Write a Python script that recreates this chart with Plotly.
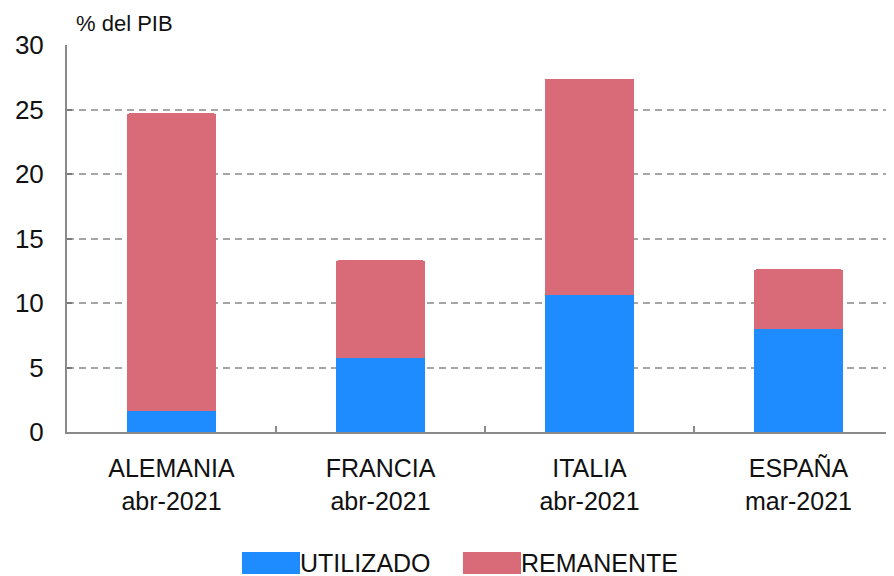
import plotly.graph_objects as go

categories = ["ALEMANIA<br>abr-2021", "FRANCIA<br>abr-2021", "ITALIA<br>abr-2021", "ESPAÑA<br>mar-2021"]
utilizado = [1.6, 5.7, 10.6, 8.0]
remanente = [23.1, 7.6, 16.8, 4.6]
y_ticks = [0, 5, 10, 15, 20, 25, 30]
series_names = ["UTILIZADO", "REMANENTE"]

BLUE = "#1E8CFF"
RED = "#D96B78"
FONT = "Liberation Sans, Arial, sans-serif"
AXIS = "#8a8a8a"

# page body has an 8px margin: figure is offset by (8, 8) in the window
OFF = 8
PL, PT, PW, PH = 67, 45, 827, 387  # plot area in window pixels


def px_x(x):
    return (x - PL) / PW


def px_y(y):
    return (PT + PH - y) / PH


fig = go.Figure()
fig.add_trace(go.Bar(x=categories, y=utilizado, name=series_names[0],
                     marker=dict(color=BLUE, line=dict(width=0)), width=0.43, showlegend=False))
fig.add_trace(go.Bar(x=categories, y=remanente, name=series_names[1],
                     marker=dict(color=RED, line=dict(width=0)), width=0.43, showlegend=False))

# custom legend (large swatches as in the reference)
legend_items = [(series_names[0], BLUE, 242), (series_names[1], RED, 463)]
shapes = []
annotations = []
for name, color, px in legend_items:
    x0, x1 = px_x(px), px_x(px + 58)
    y0, y1 = px_y(574), px_y(552)
    shapes.append(dict(type="rect", xref="paper", yref="paper", x0=x0, x1=x1, y0=y0, y1=y1,
                       fillcolor=color, line=dict(width=0), layer="above"))
    annotations.append(dict(text=name, xref="paper", yref="paper", x=x1, y=(y0 + y1) / 2,
                            xanchor="left", yanchor="middle", showarrow=False,
                            xshift=-2, font=dict(size=25, color="#111")))

annotations.append(dict(text="% del PIB", xref="paper", yref="paper", x=px_x(74), y=px_y(23),
                        xanchor="left", yanchor="middle", showarrow=False, font=dict(size=22, color="#111")))

fig.update_layout(
    width=894 - OFF, height=576 - OFF,
    barmode="stack",
    barcornerradius=3,
    plot_bgcolor="white", paper_bgcolor="white",
    margin=dict(l=PL - OFF, r=0, t=PT - OFF, b=576 - (PT + PH), autoexpand=False),
    font=dict(family=FONT, size=25, color="#111"),
    showlegend=False,
    xaxis=dict(
        range=[-0.5, 3.457],
        automargin=False,
        showline=True, linecolor=AXIS, linewidth=2,
        ticks="inside", ticklen=6, tickcolor=AXIS, tickwidth=1.5,
        tickson="boundaries",
        showgrid=False,
        ticklabelstandoff=13,
        tickfont=dict(size=25),
    ),
    yaxis=dict(
        range=[0, 30], tickvals=y_ticks,
        automargin=False,
        showline=True, linecolor=AXIS, linewidth=2,
        showgrid=True, gridcolor="#a6a6a6", griddash="7px,5px", gridwidth=2,
        ticks="inside", ticklen=5, tickcolor="#7a7a7a", tickwidth=1.5,
        ticklabelstandoff=16,
        zeroline=False,
        tickfont=dict(size=26),
    ),
    shapes=shapes,
    annotations=annotations,
)

fig.write_html("out.html")
